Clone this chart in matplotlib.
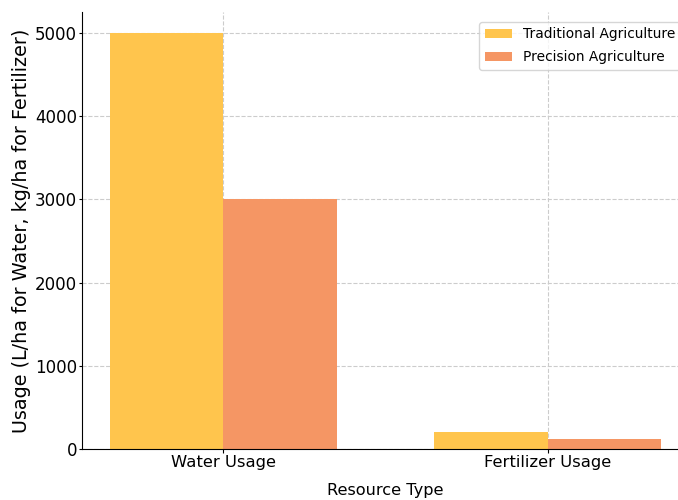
import numpy as np
import matplotlib.pyplot as plt

categories = ["Water Usage", "Fertilizer Usage"]
traditional = [5000, 200]
precision = [3000, 120]
series_names = ["Traditional Agriculture", "Precision Agriculture"]

plt.rcParams['font.family'] = 'DejaVu Sans'

fig = plt.figure(figsize=(6.78, 5), dpi=100)
# the reference is a crop: axes run past the right edge
ax = fig.add_axes([82 / 678, 51 / 500, (689 - 82) / 678, (449 - 12) / 500])

x = np.arange(len(categories))
w = 0.35
ax.bar(x - w / 2, traditional, w, color="#FFC54D", label=series_names[0])
ax.bar(x + w / 2, precision, w, color="#F59664", label=series_names[1])

ax.set_xticks(x)
ax.set_xticklabels(categories, fontsize=11.8)
ax.tick_params(axis='y', labelsize=12, length=2.5, pad=1)
ax.tick_params(axis='x', length=3, pad=1.5)
ax.set_xlabel("Resource Type", fontsize=11.6, labelpad=9)
ax.set_ylabel("Usage (L/ha for Water, kg/ha for Fertilizer)", fontsize=13.8,
              labelpad=3)

ax.set_axisbelow(True)
ax.grid(True, linestyle='--', color='#cccccc', linewidth=0.8)
ax.spines['top'].set_visible(False)
ax.spines['right'].set_visible(False)
ax.legend(loc='upper right', fontsize=9.9, labelspacing=0.65,
          bbox_to_anchor=(1 - 1 / 607, 1 - 3 / 437))

fig.savefig("out.png", dpi=100)
